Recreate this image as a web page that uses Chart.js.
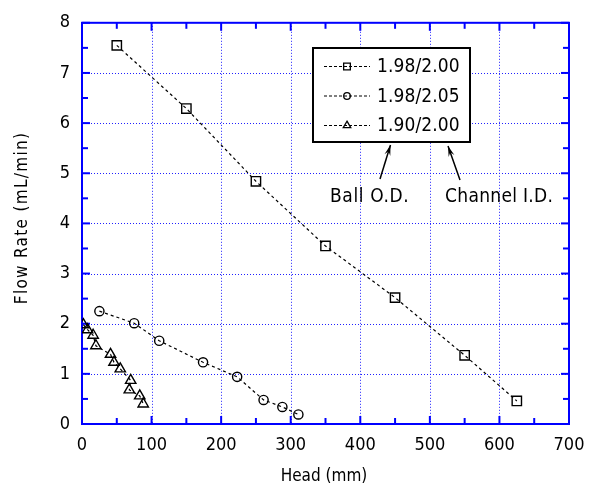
<!DOCTYPE html>
<html><head><meta charset="utf-8">
<script src="https://cdn.jsdelivr.net/npm/chart.js@4/dist/chart.umd.min.js"></script>
<style>html,body{margin:0;padding:0;background:#fff}#wrap{width:597px;height:486px}</style>
</head><body><div id="wrap"><canvas id="c" width="597" height="486"></canvas></div>
<script>
// ---- data ----
const xTicks = [0,100,200,300,400,500,600,700];
const yTicks = [0,1,2,3,4,5,6,7,8];
const xMinor = [50,150,250,350,450,550,650];
const yMinor = [0.5,1.5,2.5,3.5,4.5,5.5,6.5,7.5];
const seriesNames = ['1.98/2.00','1.98/2.05','1.90/2.00'];
const sqX = [50,150,250,350,450,550,625];
const sqY = [7.55,6.29,4.84,3.55,2.52,1.37,0.46];
const ciX = [25,75,111,174,223,261,288,311];
const ciY = [2.25,2.01,1.66,1.23,0.94,0.48,0.34,0.19];
const trX = [2,8,16,20,41,46,55,70,68,83,88];
const trY = [1.98,1.88,1.77,1.56,1.39,1.23,1.10,0.87,0.68,0.56,0.40];
const xTitle = 'Head (mm)';
const yTitle = 'Flow Rate (mL/min)';
const noteBall = 'Ball O.D.';
const noteChannel = 'Channel I.D.';

const NARROW = "'Liberation Sans Narrow','DejaVu Sans Condensed',sans-serif";
const toPts = (xs, ys) => xs.map((v, i) => ({x: v, y: ys[i]}));
const styles = ['rect','circle','triangle'];
const radii = [6.6,4.6,6];

const mk = (i, xs, ys) => ({
  label: seriesNames[i], data: toPts(xs, ys), showLine: true,
  borderColor: '#000', borderWidth: 1.2, borderDash: [3,3],
  pointStyle: styles[i], pointRadius: radii[i], pointBorderWidth: 1.4,
  pointBackgroundColor: 'rgba(0,0,0,0)', pointBorderColor: '#000'
});

const deco = {
  id: 'deco',
  beforeDatasetsDraw(chart) {
    const {ctx, chartArea: a, scales: {x, y}} = chart;
    const line = (x1,y1,x2,y2) => {ctx.beginPath();ctx.moveTo(x1,y1);ctx.lineTo(x2,y2);ctx.stroke();};
    ctx.save();
    ctx.strokeStyle = '#2020ff'; ctx.lineWidth = 1; ctx.setLineDash([1,2]);
    xTicks.forEach(v => { if (v <= 0 || v >= 700) return; const p = Math.round(x.getPixelForValue(v)) + 0.5; line(p, a.top, p, a.bottom); });
    yTicks.forEach(v => { if (v <= 0 || v >= 8) return; const p = Math.round(y.getPixelForValue(v)) + 0.5; line(a.left, p, a.right, p); });
    ctx.setLineDash([]);
    ctx.strokeStyle = '#0000ff'; ctx.lineWidth = 2;
    const tx = (v, L) => { const p = x.getPixelForValue(v); line(p, a.bottom, p, a.bottom - L); line(p, a.top, p, a.top + L); };
    const ty = (v, L) => { const p = y.getPixelForValue(v); line(a.left, p, a.left + L, p); line(a.right, p, a.right - L, p); };
    xTicks.forEach(v => tx(v, 8)); xMinor.forEach(v => tx(v, 6));
    yTicks.forEach(v => ty(v, 8)); yMinor.forEach(v => ty(v, 6));
    ctx.strokeRect(a.left, a.top, a.right - a.left, a.bottom - a.top);
    ctx.restore();
  },
  afterDraw(chart) {
    const {ctx, chartArea: a} = chart;
    const line = (x1,y1,x2,y2) => {ctx.beginPath();ctx.moveTo(x1,y1);ctx.lineTo(x2,y2);ctx.stroke();};
    ctx.save();
    // legend
    ctx.fillStyle = '#fff'; ctx.fillRect(313, 48, 157, 94);
    ctx.strokeStyle = '#000'; ctx.lineWidth = 2; ctx.strokeRect(313, 48, 157, 94);
    chart.data.datasets.forEach((ds, i) => {
      const yy = 66.5 + i * 29.5;
      ctx.lineWidth = 1.2; ctx.setLineDash([3,2]); ctx.strokeStyle = '#000';
      line(324, yy, 370, yy);
      ctx.setLineDash([]);
      ctx.fillStyle = 'rgba(0,0,0,0)'; ctx.lineWidth = 1.3;
      Chart.helpers.drawPoint(ctx, {pointStyle: ds.pointStyle, radius: ds.pointRadius * 0.72, rotation: 0, borderWidth: 1.3}, 347, yy);
      ctx.fillStyle = '#000';
      ctx.font = '19px ' + NARROW; ctx.letterSpacing = '0.1px';
      ctx.textAlign = 'left'; ctx.textBaseline = 'middle';
      ctx.fillText(ds.label, 377, yy + 1);
    });
    // arrows
    const arrow = (x1,y1,x2,y2) => {
      ctx.strokeStyle = '#000'; ctx.fillStyle = '#000'; ctx.lineWidth = 1.5; ctx.setLineDash([]);
      line(x1,y1,x2,y2);
      const ang = Math.atan2(y2-y1, x2-x1), L = 11, w = 0.28;
      ctx.beginPath(); ctx.moveTo(x2,y2);
      ctx.lineTo(x2 - L*Math.cos(ang-w), y2 - L*Math.sin(ang-w));
      ctx.lineTo(x2 - 0.6*L*Math.cos(ang), y2 - 0.6*L*Math.sin(ang));
      ctx.lineTo(x2 - L*Math.cos(ang+w), y2 - L*Math.sin(ang+w));
      ctx.closePath(); ctx.fill();
    };
    arrow(380, 179, 390.5, 145);
    arrow(460, 180, 448, 146);
    ctx.fillStyle = '#000'; ctx.font = '19px ' + NARROW; ctx.textBaseline = 'alphabetic'; ctx.textAlign = 'left';
    ctx.letterSpacing = '0.6px'; ctx.fillText(noteBall, 330, 202);
    ctx.letterSpacing = '0.3px'; ctx.fillText(noteChannel, 445, 202);
    // axis titles
    ctx.letterSpacing = '0px'; ctx.font = '17px ' + NARROW; ctx.textAlign = 'center'; ctx.textBaseline = 'middle';
    ctx.fillText(xTitle, 324, 477);
    ctx.save(); ctx.translate(23, 218); ctx.rotate(-Math.PI / 2);
    ctx.letterSpacing = '1.3px'; ctx.fillText(yTitle, 0, 0);
    ctx.restore();
    ctx.restore();
  }
};

new Chart(document.getElementById('c'), {
  type: 'scatter',
  data: { datasets: [mk(0, sqX, sqY), mk(1, ciX, ciY), mk(2, trX, trY)] },
  options: {
    responsive: false, animation: false, events: [],
    layout: { padding: { top: 22, right: 28, left: 0, bottom: 0 } },
    plugins: { legend: { display: false }, tooltip: { enabled: false } },
    scales: {
      x: { type: 'linear', min: 0, max: 700,
        afterFit(s) { s.height = 62; },
        afterBuildTicks(s) { s.ticks = xTicks.map(v => ({value: v})); },
        grid: { display: false, drawTicks: false }, border: { display: false },
        ticks: { color: '#000', padding: 11, font: { family: NARROW, size: 18 } } },
      y: { type: 'linear', min: 0, max: 8,
        afterFit(s) { s.width = 82; },
        afterBuildTicks(s) { s.ticks = yTicks.map(v => ({value: v})); },
        grid: { display: false, drawTicks: false }, border: { display: false },
        ticks: { color: '#000', padding: 12, font: { family: NARROW, size: 18 } } }
    }
  },
  plugins: [deco]
});
</script></body></html>
